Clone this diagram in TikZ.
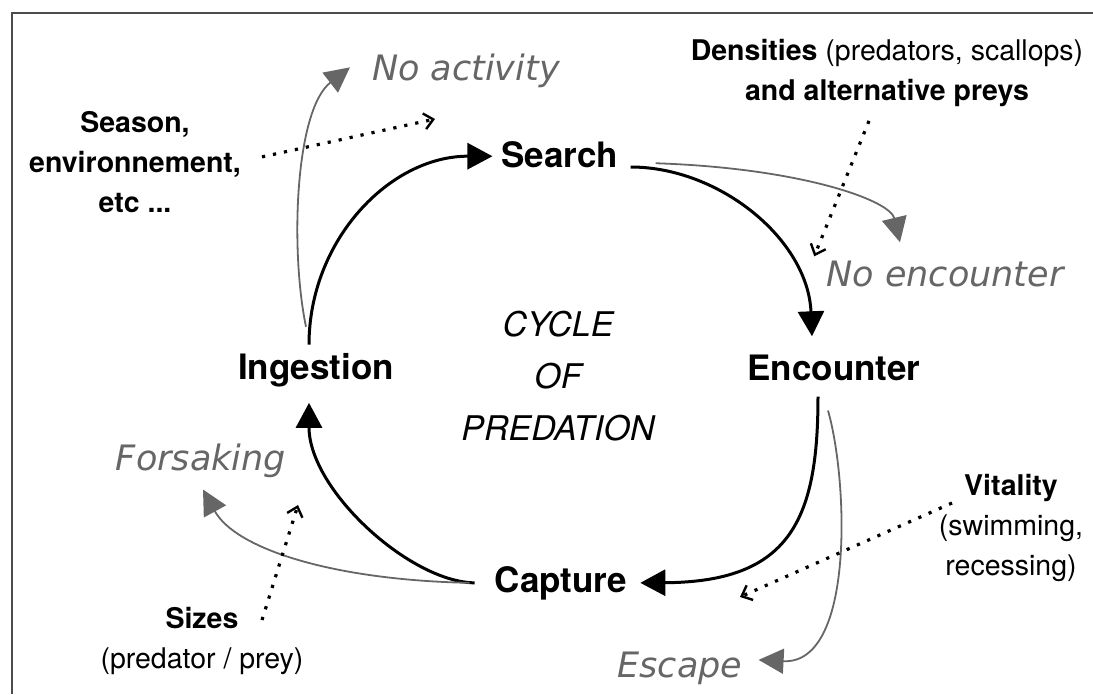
\documentclass[tikz,border=0pt]{standalone}
\usepackage{fontspec}
\setmainfont{TeX Gyre Heros}
\newfontfamily\outfont{DejaVu Sans}
\usetikzlibrary{arrows.meta}

\tikzset{
  stage/.style={inner sep=0pt,font=\fontsize{35}{42}\selectfont\bfseries},
  factor/.style={inner sep=0pt,align=center,font=\fontsize{28.5}{40}\selectfont},
  outcome/.style={inner sep=0pt,text=black!60,font=\outfont\itshape\fontsize{35}{42}\selectfont},
  cyc/.style={line width=3pt,-{Triangle[length=25pt,width=26pt]}},
  loss/.style={black!60,line width=1.8pt,-{Triangle[length=25pt,width=25pt]}},
  effect/.style={line width=3.2pt,dash pattern=on 3.2pt off 8pt,
    -{Straight Barb[length=9pt,width=16pt,line width=2.4pt]}}
}

\begin{document}
\begin{tikzpicture}[x=1pt,y=-1pt]
\useasboundingbox (0,0) rectangle (1093,694);

% Frame (top and left edges only)
\draw[black!70,line width=1.5pt] (12,694) -- (12,13) -- (1093,13);

% Stages of the cycle
\node[stage,anchor=base] (search)    at (560,167) {Search};
\node[stage,anchor=base] (encounter) at (834,380) {Encounter};
\node[stage,anchor=base] (capture)   at (561,592) {Capture};
\node[stage,anchor=base] (ingestion) at (316,379) {Ingestion};
\node[anchor=north,inner sep=0pt,align=center,font=\itshape\fontsize{34}{52}\selectfont]
  (cycle) at (558,311) {CYCLE\\OF\\PREDATION};

% Factors
\node[factor,anchor=north] (season) at (135,111)
  {\textbf{Season,}\\\textbf{environnement,}\\\textbf{etc ...}};
\node[factor,anchor=north] (densities) at (887,39)
  {\textbf{Densities} (predators, scallops)\\\textbf{and alternative preys}};
\node[factor,anchor=north] (vitality) at (1011,474)
  {\textbf{Vitality}\\(swimming,\\recessing)};
\node[factor,anchor=north] (sizes) at (202,607)
  {\textbf{Sizes}\\(predator / prey)};

% Outcomes leaving the cycle
\node[outcome,anchor=base] (noact)  at (466,80)  {No activity};
\node[outcome,anchor=base] (noenc)  at (945,286) {No encounter};
\node[outcome,anchor=base] (forsak) at (201,470) {Forsaking};
\node[outcome,anchor=base] (escape) at (680,677) {Escape};

% Define coordinates
\coordinate (seasontip) at (435,119);
\coordinate (vitaltip)  at (740,597);
\coordinate (sizestip)  at (298,505);

% Draw the cycle
\draw[cyc] ([shift={(-7,-8)}]ingestion.north) .. controls (309,240) and (390,156) .. ([shift={(-9,2)}]search.west);
\draw[cyc] ([shift={(12,0)}]search.base east) .. controls (720,167) and (808,240) .. ([shift={(-22,-18)}]encounter.north);
\draw[cyc] ([shift={(-16,16)}]encounter.south) .. controls (818,520) and (790,582) .. ([shift={(13,0)}]capture.east);
\draw[cyc] ([shift={(-20,0)}]capture.west) .. controls (410,582) and (309,490) .. ([shift={(-7,16)}]ingestion.south);

% Draw the losses
\draw[loss] ([shift={(-10,-26)}]ingestion.north) .. controls (290,250) and (295,110) .. ([shift={(-22,-3)}]noact.west);
\draw[loss] ([shift={(37,9)}]search.east) .. controls (800,168) and (890,200) .. ([shift={(-45,-18)}]noenc.north);
\draw[loss] ([shift={(-6,30)}]encounter.south) .. controls (848,480) and (855,665) .. ([shift={(16,-8)}]escape.east);
\draw[loss] ([shift={(-25,0)}]capture.west) .. controls (330,580) and (235,548) .. ([shift={(2,12)}]forsak.south);

% Draw the dotted influences
\draw[effect] ([shift={(21,-5)}]season.east) -- (seasontip);
\draw[effect] ([shift={(-18,14)}]densities.south) -- ([shift={(-12,-4)}]noenc.north west);
\draw[effect] ([shift={(-59,29)}]vitality.north) -- (vitaltip);
\draw[effect] ([shift={(60,13)}]sizes.north) -- (sizestip);

\end{tikzpicture}
\end{document}
